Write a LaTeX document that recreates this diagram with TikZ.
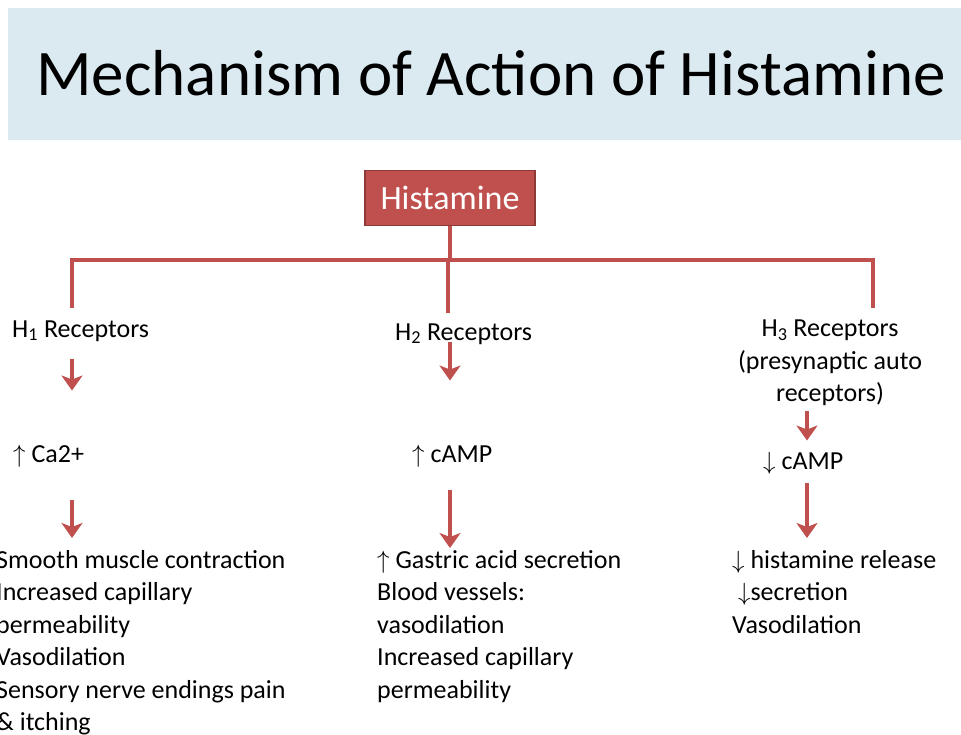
\documentclass[tikz,border=0pt]{standalone}
\usepackage{fontspec}
\setmainfont{Carlito}
\usetikzlibrary{positioning,arrows.meta}
\definecolor{histred}{RGB}{192,80,77}
\definecolor{histdark}{RGB}{140,58,56}
\definecolor{bandblue}{RGB}{219,234,241}
\tikzset{
  txt/.style={inner sep=0pt,font=\fontsize{26}{32.5}\selectfont},
  branch/.style={histred,line width=4pt},
  flow/.style={histred,line width=4pt,-{Stealth[length=15pt,width=21pt,inset=4pt]}}
}
\begin{document}
\begin{tikzpicture}[x=1pt,y=-1pt]
  \useasboundingbox (0,0) rectangle (961,734);
  % 标题
  \fill[bandblue] (8,8) rectangle (961,140);
  \node[inner sep=0pt,anchor=base,font=\fontsize{65}{70}\selectfont] (title) at (491,95) {Mechanism of Action of Histamine};

  % 顶点
  \node[fill=histred,draw=histdark,line width=1.5pt,text=white,minimum width=170,minimum height=55,font=\fontsize{34}{38}\selectfont] (hist) at (450,198) {Histamine};
  \node[txt,anchor=base west] (h1) at (12,337) {H\textsubscript{1} Receptors};
  \node[txt,anchor=base west] (h2) at (395,340) {H\textsubscript{2} Receptors};
  \node[txt,anchor=north,align=center] (h3) at (830,320) {H\textsubscript{3} Receptors\\(presynaptic auto\\receptors)};
  \node[txt,anchor=base west] (ca) at (13,462) {$\uparrow$ Ca2+};
  \node[txt,anchor=base west] (campup) at (412,462) {$\uparrow$ cAMP};
  \node[txt,anchor=base west] (campdn) at (763,469) {$\downarrow$ cAMP};
  \node[txt,anchor=north west,align=left] (eff1) at (-4,550) {Smooth muscle contraction\\Increased capillary\\permeability\\Vasodilation\\Sensory nerve endings pain\\\& itching};
  \node[txt,anchor=north west,align=left] (eff2) at (377,550) {$\uparrow$ Gastric acid secretion\\Blood vessels:\\vasodilation\\Increased capillary\\permeability};
  \node[txt,anchor=north west,align=left] (eff3) at (732,550) {$\downarrow$ histamine release\\\ $\downarrow$secretion\\Vasodilation};

  % 粒子线
  \coordinate (busL) at (72,260);
  \coordinate (busM) at (448,260);
  \coordinate (busR) at (873,260);
  \draw[branch] (hist.south) -- (hist.south |- busL);
  \draw[branch,line cap=rect] (busL) -- (busR);
  \draw[branch] (busL) -- (busL |- h1.north) [shorten >=12pt];
  \draw[branch] (busM) -- (busM |- h2.north) [shorten >=10pt];
  \draw[branch] (busR) -- (busR |- h3.north) [shorten >=12pt];

  % 箭头
  \draw[flow,shorten <=18pt,shorten >=54pt] (h1.south -| busL) -- (ca.north -| busL);
  \draw[flow,shorten <=33pt,shorten >=12pt] (ca.south -| busL) -- (eff1.north -| busL);
  \draw[flow,shorten <=-2pt,shorten >=64pt] (h2.south -| 450,0) -- (campup.north -| 450,0);
  \draw[flow,shorten <=23pt,shorten >=2pt] (campup.south -| 450,0) -- (eff2.north -| 450,0);
  \draw[flow,shorten <=5pt,shorten >=11pt] (h3.south -| 807,0) -- (campdn.north -| 807,0);
  \draw[flow,shorten <=9pt,shorten >=12pt] (campdn.south -| 807,0) -- (eff3.north -| 807,0);
\end{tikzpicture}
\end{document}
